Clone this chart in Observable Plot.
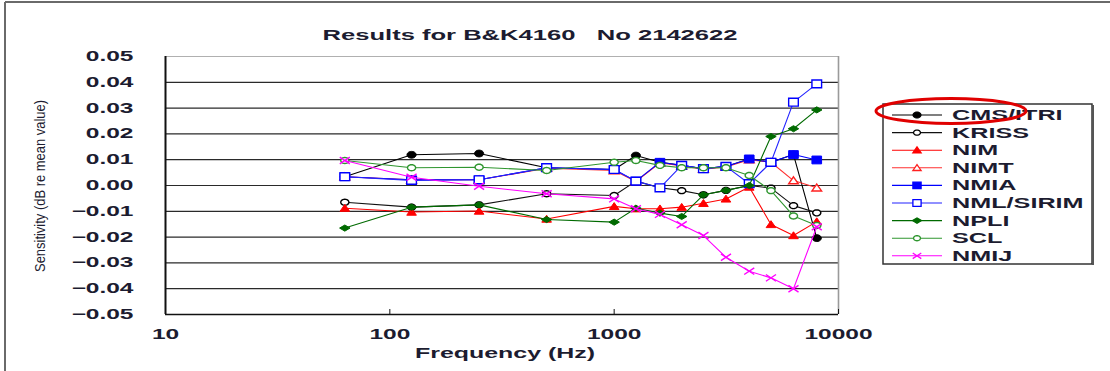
<!DOCTYPE html>
<html><head><meta charset="utf-8">
<script src="https://cdn.jsdelivr.net/npm/d3@7"></script>
<script src="https://cdn.jsdelivr.net/npm/@observablehq/plot@0.6"></script>
<style>
html,body{margin:0;padding:0;background:#fff;}
#chart{position:relative;width:1110px;height:371px;overflow:hidden;}
</style></head><body><div id="chart"></div>
<script>
// ---- data ----
const frequencies = [63, 125, 250, 500, 1000, 1250, 1600, 2000, 2500, 3150, 4000, 5000, 6300, 8000];
const seriesNames = ["CMS/ITRI", "KRISS", "NIM", "NIMT", "NMIA", "NML/SIRIM", "NPLI", "SCL", "NMIJ"];
const cmsItri  = [0.0034, 0.0119, 0.0124, 0.0069, 0.0062, 0.0116, 0.0090, 0.0078, 0.0065, 0.0074, 0.0103, 0.0090, 0.0120, -0.0204];
const kriss    = [-0.0065, -0.0084, -0.0075, -0.0032, -0.0039, 0.0017, -0.0009, -0.0020, -0.0036, -0.0019, 0.0000, -0.0010, -0.0078, -0.0106];
const nim      = [-0.0088, -0.0103, -0.0099, -0.0130, -0.0081, -0.0090, -0.0090, -0.0084, -0.0069, -0.0052, -0.0006, -0.0151, -0.0194, -0.0140];
const nimt     = [0.0034, 0.0022, 0.0022, 0.0067, 0.0058, 0.0015, 0.0088, 0.0076, 0.0063, 0.0072, 0.0100, 0.0090, 0.0019, -0.0009];
const nmia     = [0.0034, 0.0022, 0.0022, 0.0069, 0.0062, 0.0017, 0.0090, 0.0078, 0.0065, 0.0074, 0.0103, 0.0090, 0.0120, 0.0099];
const nmlSirim = [0.0034, 0.0020, 0.0022, 0.0069, 0.0062, 0.0017, -0.0009, 0.0078, 0.0065, 0.0074, 0.0007, 0.0090, 0.0323, 0.0394];
const npli     = [-0.0165, -0.0084, -0.0075, -0.0132, -0.0142, -0.0088, -0.0107, -0.0120, -0.0036, -0.0019, 0.0000, 0.0190, 0.0220, 0.0293];
const scl      = [0.0097, 0.0069, 0.0071, 0.0058, 0.0090, 0.0097, 0.0078, 0.0069, 0.0069, 0.0069, 0.0039, -0.0020, -0.0118, -0.0155];
const nmij     = [0.0097, 0.0032, -0.0003, -0.0032, -0.0052, -0.0090, -0.0112, -0.0152, -0.0194, -0.0278, -0.0332, -0.0358, -0.0400, -0.0160];
const yTicks = [0.05, 0.04, 0.03, 0.02, 0.01, 0.00, -0.01, -0.02, -0.03, -0.04, -0.05];
const xTicks = [10, 100, 1000, 10000];
const titleText = "Results for B&K4160   No 2142622";
const xLabel = "Frequency (Hz)";
const yLabel = "Sensitivity (dB re mean value)";

const seriesValues = [cmsItri, kriss, nim, nimt, nmia, nmlSirim, npli, scl, nmij];

// ---- horizontally stretched marker shapes (the reference image is stretched) ----
const SX = 1.35;
const wideCircle = {draw(ctx, size) {
  const r = Math.sqrt(size / Math.PI);
  const n = 24;
  for (let k = 0; k <= n; k++) {
    const a = (k / n) * 2 * Math.PI;
    const px = Math.cos(a) * r * SX, py = Math.sin(a) * r;
    if (k === 0) ctx.moveTo(px, py); else ctx.lineTo(px, py);
  }
  ctx.closePath();
}};
const wideDiamond = {draw(ctx, size) {
  const r = Math.sqrt(size / Math.PI);
  ctx.moveTo(-r * 1.45, 0); ctx.lineTo(0, -r * 0.85); ctx.lineTo(r * 1.45, 0); ctx.lineTo(0, r * 0.85); ctx.closePath();
}};
const wideSquare = {draw(ctx, size) {
  const r = Math.sqrt(size / Math.PI);
  const w = r * 1.05, h = r * 0.85;
  ctx.moveTo(-w, -h); ctx.lineTo(w, -h); ctx.lineTo(w, h); ctx.lineTo(-w, h); ctx.closePath();
}};
const wideTriangle = {draw(ctx, size) {
  const r = Math.sqrt(size / Math.PI);
  ctx.moveTo(0, -r * 0.9); ctx.lineTo(r * 1.15, r * 0.75); ctx.lineTo(-r * 1.15, r * 0.75); ctx.closePath();
}};
const wideTimes = {draw(ctx, size) {
  const r = Math.sqrt(size / Math.PI);
  ctx.moveTo(-r * 1.2, -r * 0.8); ctx.lineTo(r * 1.2, r * 0.8);
  ctx.moveTo(-r * 1.2, r * 0.8); ctx.lineTo(r * 1.2, -r * 0.8);
}};

// ---- styles ----
const styles = {
  "CMS/ITRI":  {line: "#000000", stroke: "#000000", fill: "#000000", symbol: wideCircle,   r: 3.4},
  "KRISS":     {line: "#111111", stroke: "#000000", fill: "#ffffff", symbol: wideCircle,   r: 3.0},
  "NIM":       {line: "#ff0000", stroke: "#ff0000", fill: "#ff0000", symbol: wideTriangle, r: 4.2},
  "NIMT":      {line: "#ff3030", stroke: "#ff2020", fill: "#ffffff", symbol: wideTriangle, r: 4.2},
  "NMIA":      {line: "#0000ff", stroke: "#0000ff", fill: "#0000ff", symbol: wideSquare,   r: 4.6},
  "NML/SIRIM": {line: "#2222ff", stroke: "#0000ff", fill: "#ffffff", symbol: wideSquare,   r: 4.6},
  "NPLI":      {line: "#006a00", stroke: "#006a00", fill: "#006a00", symbol: wideDiamond,  r: 3.6},
  "SCL":       {line: "#2f962f", stroke: "#2f962f", fill: "#ffffff", symbol: wideCircle,   r: 3.0},
  "NMIJ":      {line: "#ff00ff", stroke: "#ff00ff", fill: "none",    symbol: wideTimes,    r: 4.2}
};

const rows = seriesNames.map((name, i) =>
  frequencies.map((f, j) => ({series: name, f, v: seriesValues[i][j]})));

const W = 1110, H = 371;
const FONT = "'Liberation Sans', Arial, sans-serif";
const TEXTCOL = "#1c1c30";

const seriesMarks = [];
seriesNames.forEach((name, i) => {
  const s = styles[name];
  seriesMarks.push(Plot.line(rows[i], {x: "f", y: "v", stroke: s.line, strokeWidth: 1.1}));
  seriesMarks.push(Plot.dot(rows[i], {x: "f", y: "v", symbol: () => s.symbol, r: s.r,
    fill: s.fill, stroke: s.stroke, strokeWidth: s.fill === "#ffffff" || s.fill === "none" ? 1.4 : 1}));
});

const plot = Plot.plot({
  width: W, height: H,
  marginLeft: 165, marginRight: 272, marginTop: 56, marginBottom: 57,
  x: {type: "log", domain: [10, 10000]},
  y: {domain: [-0.05, 0.05]},
  symbol: {type: "identity"},
  style: {fontFamily: FONT, fontSize: "14px", color: TEXTCOL, background: "white", overflow: "visible"},
  marks: [
    Plot.ruleY(yTicks.filter(d => d > -0.05 && d < 0.05), {stroke: "#2a2a2a", strokeWidth: 1.2}),
    Plot.ruleY([0.05], {stroke: "#b0b0b0", strokeWidth: 1.2}),
    Plot.ruleX([10000], {stroke: "#9a9a9a", strokeWidth: 1.6}),
    Plot.ruleY([-0.05], {stroke: "#111111", strokeWidth: 1.6}),
    Plot.ruleX([10], {stroke: "#111111", strokeWidth: 2}),
    Plot.axisY({ticks: yTicks, tickSize: 0, tickPadding: 32, tickFormat: d3.format(".2f"),
      fontWeight: "bold", fontSize: 14, label: null}),
    Plot.axisX({ticks: xTicks, tickSize: -5, tickPadding: 20, tickFormat: d => String(d),
      fontWeight: "bold", fontSize: 14, label: null, stroke: "#111"}),
    ...seriesMarks
  ]
});

document.getElementById("chart").appendChild(plot);
const svg = d3.select(plot);

// stretch tick labels horizontally like the reference
const F = 1.75;
svg.selectAll('g[aria-label="y-axis tick label"] text, g[aria-label="x-axis tick label"] text').each(function() {
  const len = this.getComputedTextLength();
  d3.select(this).attr("textLength", len * F).attr("lengthAdjust", "spacingAndGlyphs");
});

const ov = svg.append("g").attr("font-family", FONT).attr("fill", TEXTCOL);

// outer frame
ov.append("line").attr("x1", 5).attr("x2", W).attr("y1", 2).attr("y2", 2).attr("stroke", "#6a6a6a").attr("stroke-width", 2);
ov.append("line").attr("x1", 5).attr("x2", 5).attr("y1", 2).attr("y2", H).attr("stroke", "#6a6a6a").attr("stroke-width", 2);

// title
ov.append("text").text(titleText).attr("x", 530).attr("y", 39.5).attr("text-anchor", "middle")
  .attr("font-size", 15).attr("font-weight", "bold").attr("textLength", 415).attr("lengthAdjust", "spacingAndGlyphs");
// x label
ov.append("text").text(xLabel).attr("x", 505).attr("y", 358).attr("text-anchor", "middle")
  .attr("font-size", 14).attr("font-weight", "bold").attr("textLength", 180).attr("lengthAdjust", "spacingAndGlyphs");
// y label
ov.append("text").text(yLabel).attr("transform", "translate(45,186) rotate(-90)").attr("text-anchor", "middle")
  .attr("font-size", 15).attr("textLength", 172).attr("lengthAdjust", "spacingAndGlyphs");

// legend
const lg = ov.append("g");
lg.append("rect").attr("x", 883).attr("y", 104).attr("width", 209).attr("height", 160)
  .attr("fill", "white").attr("stroke", "#333").attr("stroke-width", 1.5);
lg.append("line").attr("x1", 1093).attr("x2", 1093).attr("y1", 105).attr("y2", 265).attr("stroke", "#555").attr("stroke-width", 2);
seriesNames.forEach((name, i) => {
  const s = styles[name];
  const y = 115 + i * 17.6;
  lg.append("line").attr("x1", 892).attr("x2", 942).attr("y1", y).attr("y2", y).attr("stroke", s.line).attr("stroke-width", 1.1);
  const rr = s.r * 0.85;
  lg.append("path").attr("d", d3.symbol(s.symbol, rr * rr * Math.PI)())
    .attr("transform", `translate(917,${y})`).attr("fill", s.fill).attr("stroke", s.stroke).attr("stroke-width", 1.3);
  const t = lg.append("text").text(name).attr("x", 952).attr("y", y + 5).attr("text-anchor", "start")
    .attr("font-size", 14).attr("font-weight", "bold");
  const len = t.node().getComputedTextLength();
  t.attr("textLength", len * 1.8).attr("lengthAdjust", "spacingAndGlyphs");
});

// red annotation ellipse
ov.append("ellipse").attr("cx", 951).attr("cy", 111).attr("rx", 75).attr("ry", 12.5)
  .attr("fill", "none").attr("stroke", "#e00000").attr("stroke-width", 3);
</script>
</body></html>
